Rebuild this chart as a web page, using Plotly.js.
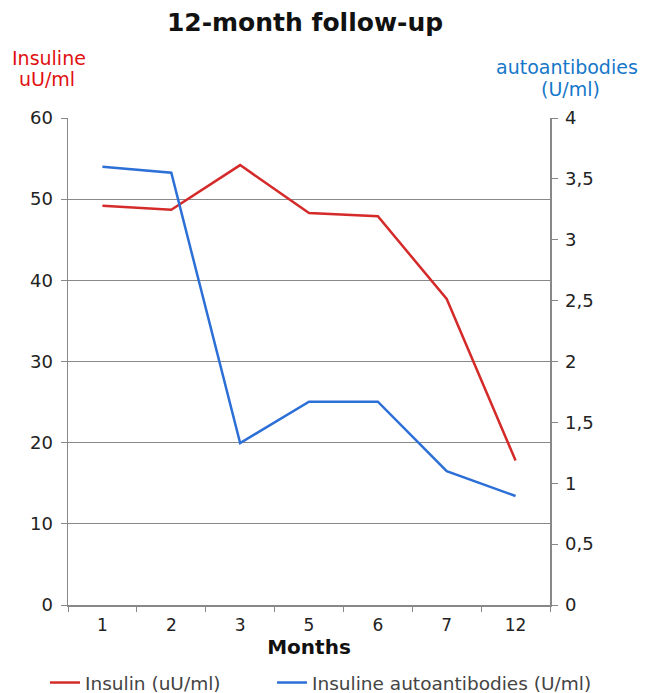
<!DOCTYPE html>
<html>
<head>
<meta charset="utf-8">
<script src="https://cdn.plot.ly/plotly-3.0.1.min.js"></script>
<style>html,body{margin:0;padding:0;background:#fff;}#chart{width:645px;height:693px;}</style>
</head>
<body>
<div id="chart"></div>
<script>
var months = ["1", "2", "3", "5", "6", "7", "12"];
var insulin = [49.2, 48.7, 54.2, 48.3, 47.9, 37.7, 17.8];
var autoantibodies = [3.60, 3.55, 1.33, 1.67, 1.67, 1.10, 0.895];
var leftTicks = [0, 10, 20, 30, 40, 50, 60];
var rightTicks = [0, 0.5, 1, 1.5, 2, 2.5, 3, 3.5, 4];

var font = "DejaVu Sans, Verdana, sans-serif";
var W = 645, H = 693;
var L = 68, R = 95, T = 118, B = 88;
var pw = W - L - R, ph = H - T - B;
function px(x) { return (x - L) / pw; }
function py(y) { return (H - B - y) / ph; }

var traces = [
  {
    x: months, y: insulin, type: "scatter", mode: "lines",
    name: "Insulin (uU/ml)",
    line: {color: "#d42a2a", width: 2.5},
    yaxis: "y", legend: "legend"
  },
  {
    x: months, y: autoantibodies, type: "scatter", mode: "lines",
    name: "Insuline autoantibodies (U/ml)",
    line: {color: "#2c6fd6", width: 2.5},
    yaxis: "y2", legend: "legend2"
  }
];

var legendCommon = {
  orientation: "h",
  xref: "container", yref: "container",
  y: 1 - 683 / H, yanchor: "middle", xanchor: "left",
  font: {family: font, size: 18.5, color: "#444"},
  bgcolor: "rgba(0,0,0,0)"
};

var layout = {
  width: W, height: H,
  margin: {l: L, r: R, t: T, b: B, autoexpand: false},
  paper_bgcolor: "#fff", plot_bgcolor: "#fff",
  separators: ", ",
  font: {family: font, color: "#222", size: 14},
  title: {
    text: "<b>12-month follow-up</b>",
    font: {family: font, size: 25, color: "#111"},
    x: 305 / W, xanchor: "center", xref: "container",
    y: 1 - 22 / H, yanchor: "middle", yref: "container"
  },
  xaxis: {
    type: "category", range: [-0.5, 6.5],
    showline: true, linecolor: "#888", linewidth: 1.5,
    ticks: "outside", tickson: "boundaries", ticklen: 5, tickcolor: "#888",
    showgrid: false, zeroline: false, ticklabelstandoff: 4,
    tickfont: {family: font, size: 17, color: "#222"},
    title: {text: "<b>Months</b>", font: {family: font, size: 20, color: "#111"}, standoff: 6}
  },
  yaxis: {
    range: [0, 60], tickvals: leftTicks,
    showline: true, linecolor: "#888", linewidth: 1.5,
    ticks: "outside", ticklen: 6, tickcolor: "#888",
    showgrid: true, gridcolor: "#888", gridwidth: 1.3,
    zeroline: false, ticklabelstandoff: 4,
    tickfont: {family: font, size: 18, color: "#222"}
  },
  yaxis2: {
    range: [0, 4], tickvals: rightTicks,
    overlaying: "y", side: "right",
    showline: true, linecolor: "#888", linewidth: 1.5,
    ticks: "outside", ticklen: 6, tickcolor: "#888",
    showgrid: false, zeroline: false, ticklabelstandoff: 4,
    tickfont: {family: font, size: 18, color: "#222"}
  },
  showlegend: true,
  legend: Object.assign({}, legendCommon, {x: 45 / W}),
  legend2: Object.assign({}, legendCommon, {x: 272 / W}),
  annotations: [
    {
      text: "Insuline", xref: "paper", yref: "paper",
      x: px(49), y: py(58),
      xanchor: "center", yanchor: "middle", showarrow: false,
      font: {family: font, size: 19, color: "#e01010"}
    },
    {
      text: "uU/ml", xref: "paper", yref: "paper",
      x: px(47), y: py(79),
      xanchor: "center", yanchor: "middle", showarrow: false,
      font: {family: font, size: 19, color: "#e01010"}
    },
    {
      text: "autoantibodies", xref: "paper", yref: "paper",
      x: px(567), y: py(67),
      xanchor: "center", yanchor: "middle", showarrow: false,
      font: {family: font, size: 19, color: "#1577c9"}
    },
    {
      text: "(U/ml)", xref: "paper", yref: "paper",
      x: px(570), y: py(89),
      xanchor: "center", yanchor: "middle", showarrow: false,
      font: {family: font, size: 19, color: "#1577c9"}
    }
  ]
};

Plotly.newPlot("chart", traces, layout, {displayModeBar: false, staticPlot: true});
</script>
</body>
</html>
